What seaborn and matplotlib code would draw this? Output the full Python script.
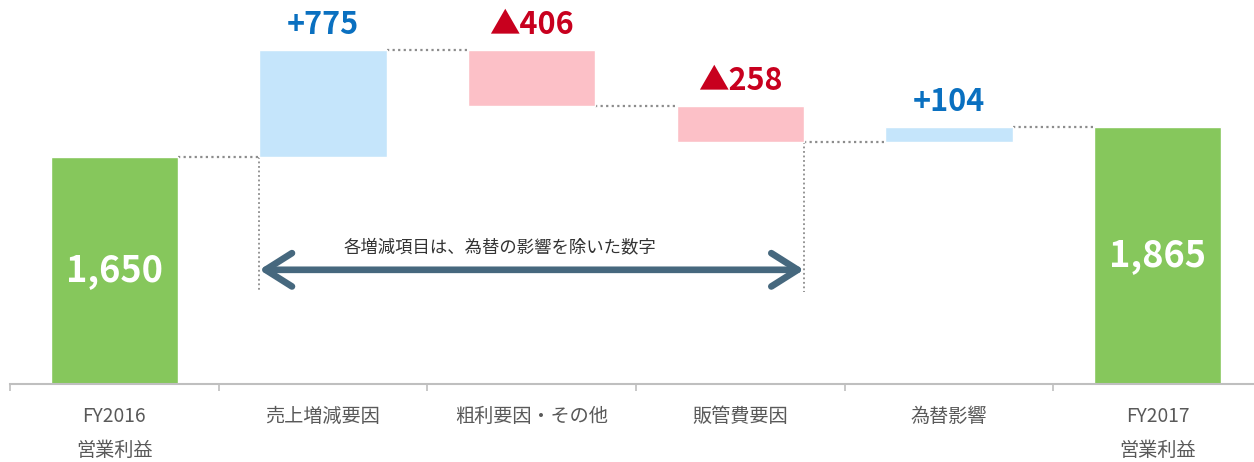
import numpy as np
import pandas as pd
import matplotlib
matplotlib.use("Agg")
import matplotlib.pyplot as plt
import seaborn as sns
from matplotlib.ticker import FixedLocator

# ---------------- data ----------------
categories = ["FY2016\n営業利益", "売上増減要因", "粗利要因・その他", "販管費要因", "為替影響", "FY2017\n営業利益"]
start_value = 1650
changes = [775, -406, -258, 104]
end_value = 1865
change_labels = ["+775", "▲406", "▲258", "+104"]
total_labels = ["1,650", "1,865"]
note_text = "各増減項目は、為替の影響を除いた数字"

# ---------------- style ----------------
sns.set_style("white")
plt.rcParams["font.family"] = ["Noto Sans CJK JP", "DejaVu Sans"]

GREEN = "#86c75c"
LBLUE = "#c5e5fb"
PINK = "#fcc0c7"
BLUE_TXT = "#0a70c0"
RED_TXT = "#c8001e"
ARROW = "#46687e"
GRAY = "#bfbfbf"
DOT = "#8c8c8c"

# build waterfall table
levels = [start_value]
for c in changes:
    levels.append(levels[-1] + c)
bottoms = [0]
heights = [start_value]
kinds = ["total"]
for i, c in enumerate(changes):
    lo = min(levels[i], levels[i + 1])
    bottoms.append(lo)
    heights.append(abs(c))
    kinds.append("up" if c > 0 else "down")
bottoms.append(0)
heights.append(end_value)
kinds.append("total")
df = pd.DataFrame({"cat": categories, "height": heights, "bottom": bottoms, "kind": kinds})
colors = {"total": GREEN, "up": LBLUE, "down": PINK}

fig = plt.figure(figsize=(12.54, 4.62), dpi=100)
ax = fig.add_axes([10 / 1254, 1 - 384 / 462, 1244 / 1254, 384 / 462])

BW = 0.61
for kind, sub in df.groupby("kind", sort=False):
    sns.barplot(data=sub, x="cat", y="height", order=categories,
                bottom=sub["bottom"].values, color=colors[kind],
                width=BW, saturation=1, ax=ax, zorder=2)

ax.set_xlim(-0.5, 5.462)
ax.set_ylim(0, 2791)
ax.set_xlabel("")
ax.set_ylabel("")
ax.set_yticks([])
for s in ["left", "top", "right"]:
    ax.spines[s].set_visible(False)
ax.spines["bottom"].set_color(GRAY)
ax.spines["bottom"].set_linewidth(1.5)

ax.set_xticks(range(len(categories)))
ax.set_xticklabels(categories, fontsize=13.8, color="#595959", linespacing=1.8)
ax.tick_params(axis="x", which="major", length=0, pad=16)
ax.xaxis.set_minor_locator(FixedLocator(np.arange(-0.5, len(categories) - 1, 1.0)))
ax.tick_params(axis="x", which="minor", bottom=True, length=5, width=1.2,
               color=GRAY, direction="out")

# connectors
half = BW / 2
for i in range(len(categories) - 1):
    y = levels[i] if i < len(levels) else end_value
    ax.plot([i + half, i + 1 - half], [y, y], color=DOT, lw=1.6,
            linestyle=(0, (1, 1.5)), zorder=1)

# vertical dotted guides
guide_bottom = 670
ax.plot([1 - half, 1 - half], [start_value, guide_bottom], color=DOT, lw=1.3,
        linestyle=(0, (1, 1.5)), zorder=1)
ax.plot([3 + half, 3 + half], [levels[3], guide_bottom], color=DOT, lw=1.3,
        linestyle=(0, (1, 1.5)), zorder=1)

# arrow
ax.annotate("", xy=(3 + half, 830), xytext=(1 - half, 830),
            arrowprops=dict(arrowstyle="<->,head_length=0.95,head_width=0.6",
                            color=ARROW, lw=4.8, shrinkA=0, shrinkB=0,
                            mutation_scale=20, capstyle="round", joinstyle="round"),
            zorder=3)
ax.text(1.85, 995, note_text, ha="center", va="center", fontsize=12.5, color="#333333")

# change labels
for i, (c, lab) in enumerate(zip(changes, change_labels)):
    top = max(levels[i], levels[i + 1])
    ax.annotate(lab, xy=(i + 1, top), xytext=(0, 18), textcoords="offset points",
                ha="center", va="center", fontsize=22, fontweight="bold",
                color=BLUE_TXT if c > 0 else RED_TXT)

# totals
for x, v, lab in [(0, start_value, total_labels[0]), (5, end_value, total_labels[1])]:
    ax.text(x, v * 0.5, lab, ha="center", va="center", fontsize=26,
            fontweight="bold", color="white", zorder=4)

fig.savefig("out.png", dpi=100)
